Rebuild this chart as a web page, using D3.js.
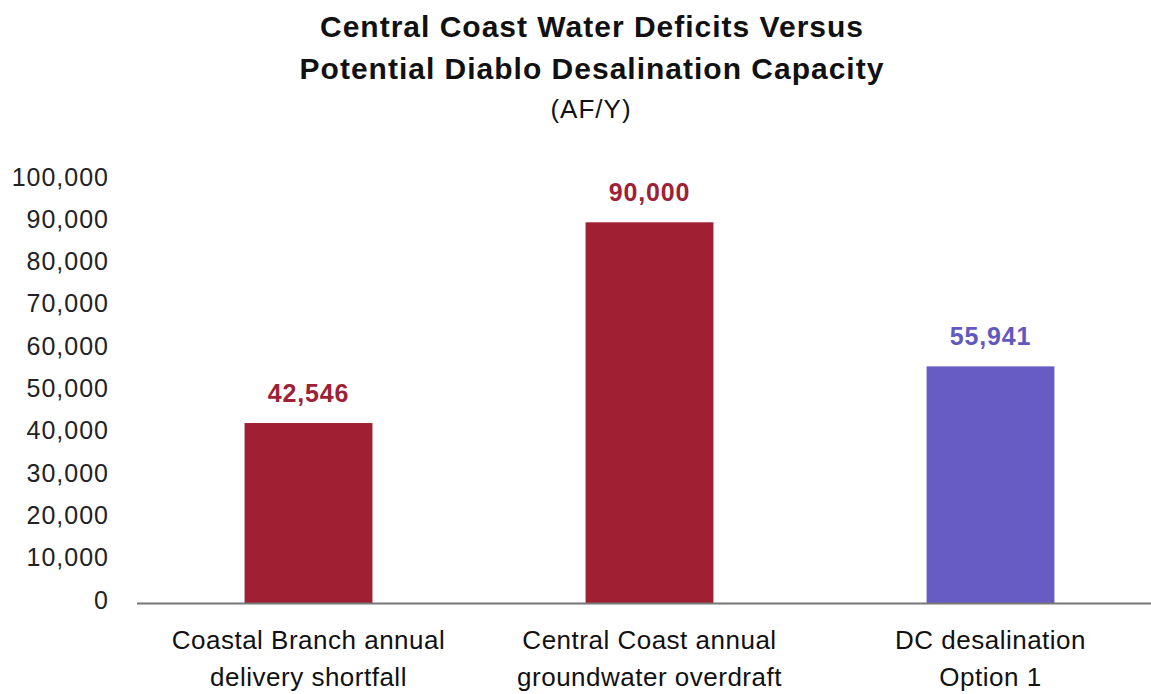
<!DOCTYPE html>
<html>
<head>
<meta charset="utf-8">
<script src="https://cdn.jsdelivr.net/npm/d3@7"></script>
<style>
  html, body { margin: 0; padding: 0; background: #fff; }
  svg { display: block; font-family: "Liberation Sans", Arial, Helvetica, sans-serif; }
</style>
</head>
<body>
<svg id="chart" width="1151" height="694"></svg>
<script>
const categories = [
  ["Coastal Branch annual", "delivery shortfall"],
  ["Central Coast annual", "groundwater overdraft"],
  ["DC desalination", "Option 1"]
];
const values = [42546, 90000, 55941];
const barColors = ["#a01f33", "#a01f33", "#665cc4"];
const labelColors = ["#9e2136", "#9e2136", "#6259bf"];
const yTicks = [0, 10000, 20000, 30000, 40000, 50000, 60000, 70000, 80000, 90000, 100000];
const titleLines = ["Central Coast Water Deficits Versus", "Potential Diablo Desalination Capacity"];
const subtitle = "(AF/Y)";

const svg = d3.select("#chart");
const W = 1151, H = 694;

const ids = categories.map((c, i) => i);
const x = d3.scaleBand().domain(ids).range([138, 1161]).paddingInner(0.625).paddingOuter(0.3125);
const y = d3.scaleLinear().domain([0, 100000]).range([603, 180]);

// title
svg.append("g").selectAll("text").data(titleLines).join("text")
  .attr("x", 592).attr("y", (d, i) => 37 + i * 42)
  .attr("text-anchor", "middle")
  .attr("font-size", 30).attr("font-weight", "bold").attr("letter-spacing", 1).attr("fill", "#111")
  .text(d => d);
svg.append("text").attr("x", 591).attr("y", 118)
  .attr("text-anchor", "middle").attr("font-size", 26).attr("letter-spacing", 1).attr("fill", "#111")
  .text(subtitle);

// y axis
const yAxis = d3.axisLeft(y).tickValues(yTicks).tickFormat(d3.format(",")).tickSize(0).tickPadding(0);
const gy = svg.append("g").attr("transform", "translate(109,-3)").call(yAxis);
gy.select(".domain").remove();
gy.selectAll("text").attr("font-size", 25).attr("letter-spacing", 1).attr("fill", "#222")
  .attr("font-family", "'Liberation Sans', Arial, sans-serif");

// bars
svg.append("g").selectAll("rect").data(values).join("rect")
  .attr("x", (d, i) => x(i)).attr("width", x.bandwidth())
  .attr("y", d => y(d)).attr("height", d => y(0) - y(d))
  .attr("fill", (d, i) => barColors[i]);

// baseline
svg.append("line").attr("x1", 137).attr("x2", W).attr("y1", y(0) + 0.5).attr("y2", y(0) + 0.5)
  .attr("stroke", "#777").attr("stroke-width", 2);

// value labels
svg.append("g").selectAll("text").data(values).join("text")
  .attr("x", (d, i) => x(i) + x.bandwidth() / 2)
  .attr("y", d => y(d) - 21)
  .attr("text-anchor", "middle").attr("font-size", 25).attr("font-weight", "bold").attr("letter-spacing", 0.8)
  .attr("fill", (d, i) => labelColors[i])
  .text(d => d3.format(",")(d));

// category labels
const gx = svg.append("g");
categories.forEach((lines, i) => {
  gx.append("text")
    .attr("x", x(i) + x.bandwidth() / 2)
    .attr("text-anchor", "middle").attr("font-size", 26).attr("letter-spacing", 0.5).attr("fill", "#111")
    .selectAll("tspan").data(lines).join("tspan")
    .attr("x", x(i) + x.bandwidth() / 2)
    .attr("y", (d, j) => 649 + j * 37)
    .text(d => d);
});
</script>
</body>
</html>
